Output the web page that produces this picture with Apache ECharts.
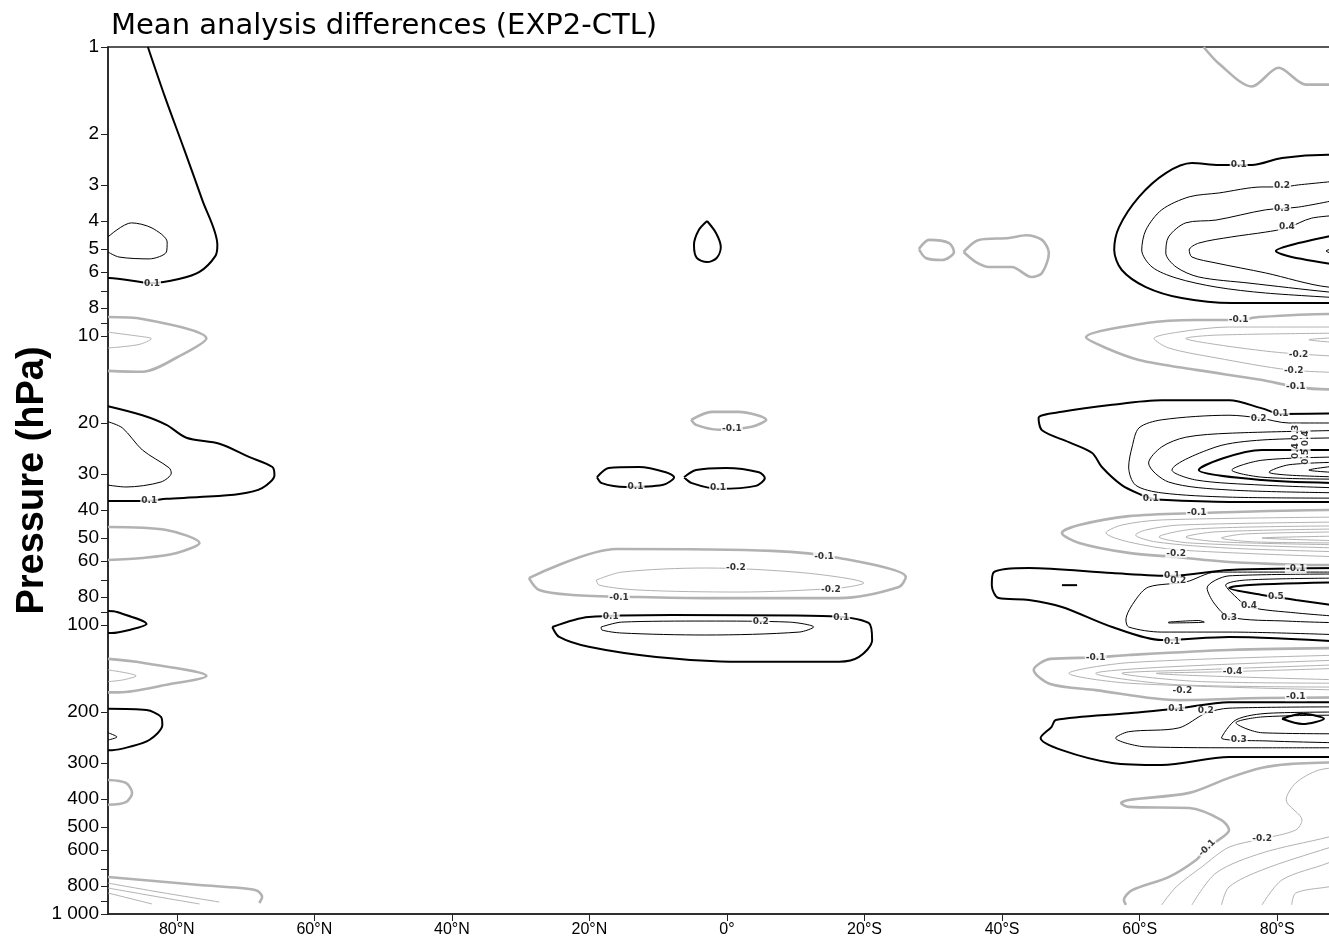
<!DOCTYPE html>
<html><head><meta charset="utf-8">
<script src="https://cdn.jsdelivr.net/npm/echarts@6/dist/echarts.min.js"></script>
<style>html,body{margin:0;padding:0;background:#fff;overflow:hidden;width:1329px;height:942px}#c{width:1360px;height:942px}</style>
</head><body><div id="c"></div>
<script>
// ---- axes ----
const latTicks = [80, 60, 40, 20, 0, -20, -40, -60, -80];
const pressureLabels = [1,2,3,4,5,6,8,10,20,30,40,50,60,80,100,200,300,400,500,600,800,1000];
const pressureTicks = [1,2,3,4,5,6,7,8,9,10,20,30,40,50,60,70,80,90,100,200,300,400,500,600,700,800,900,1000];

// ---- contour lines: [latitude (N>0, S<0), pressure hPa] ----
// North polar
const npA = [[84.2,1.0],[81.8,1.47],[78.9,2.27],[76.3,3.38],[74.1,4.84],[74.4,5.29],[76.7,6.0],[79.7,6.35],[83.6,6.56],[89.8,6.3],[90,6.3]];
const npA2 = [[90,4.54],[86.6,4.06],[83.6,4.23],[81.4,4.73],[81.5,5.12],[84,5.41],[88.4,5.33],[90,5.12]];
const np10a = [[90,8.6],[85,8.73],[75.7,10.2],[79.8,11.8],[85,13.3],[90,13.2]];
const np10b = [[90,9.7],[84.4,10.1],[83.7,10.2],[85.5,10.7],[90,11.0]];
const np30a = [[90,17.5],[85,18.8],[81.5,20.3],[78.6,22.5],[73.8,23.6],[69.5,26.2],[66.1,28.4],[65.8,30.3],[67.6,33.6],[70.9,35.2],[76.7,36.1],[81.5,36.6],[84.4,37.2],[90,37.2]];
const np30b = [[90,19.8],[87.9,20.8],[85,24.8],[81.1,28.6],[80.8,29.8],[82.3,32.0],[87.4,33.3],[90,32.8]];
const np50 = [[90,45.8],[81.5,46.9],[76.7,52.0],[80,56.3],[85,58.6],[90,59.6]];
const np100 = [[90,89.5],[88.7,90.2],[84.4,99.2],[86.9,104],[89.5,106.6],[90,106.6]];
const np150a = [[90,131],[85,135],[75.7,150],[81.5,161],[88.4,171],[90,171]];
const np150b = [[90,143],[85.9,150],[87.9,155],[90,157]];
const np220a = [[90,195],[84.4,197],[82.3,208],[82.1,222],[84,250],[86.9,264],[89.4,271],[90,271]];
const np220b = [[90,236],[88.7,244],[90,250]];
const np400 = [[90,344],[87.4,352],[86.5,381],[87.4,410],[90,419]];
const npS1 = [[90,745],[76.7,794],[68.5,827],[67.6,874],[68,916]];
const npS2 = [[90,782],[81.8,846],[73.8,909]];
const npS3 = [[90,813],[83,870],[76.7,923]];
const npS4 = [[90,846],[83.6,923]];
// Tropics
const eqA = [[2.9,4.0],[1.6,4.4],[0.9,4.92],[1.5,5.37],[2.9,5.55],[4.4,5.37],[4.8,4.84],[4.1,4.3],[2.9,4.0]];
const eqB = [[5.2,19.5],[2.2,18.3],[-1.7,18.3],[-5.7,19.5],[-3.6,20.6],[1.2,21.1],[4.5,20.3],[5.2,19.5]];
const eqC1 = [[18.9,30.8],[17.2,28.6],[12.8,28.4],[8.9,29.6],[7.7,30.8],[9.4,32.8],[14.7,33.3],[18.2,32.3],[18.9,30.8]];
const eqC2 = [[6.25,30.8],[4.5,29.1],[0.15,28.6],[-4.65,29.6],[-5.5,31.0],[-4.2,33.0],[1.2,33.8],[5.1,32.3],[6.25,30.8]];
const eqD1 = [[28.8,68.8],[16.1,54.6],[-6.5,55.4],[-16.3,58.6],[-26,68.2],[-25,73.9],[-16.3,80.7],[3.1,80.7],[12.8,80.0],[22.5,78.7],[27.3,75.7],[28.8,68.8]];
const eqD2 = [[19,69.9],[15.3,65.6],[3.1,63.5],[-11.5,66.1],[-19.9,71.6],[-16.3,74.5],[-1.7,76.9],[12.8,75.7],[18.6,72.8],[19,69.9]];
const eqE1 = [[25.4,101.6],[20.1,93.8],[8.0,92.3],[-13.8,93],[-20.6,98.4],[-21.1,113],[-19.2,129],[-16.3,134],[-1.7,134],[10.3,129],[20.1,119],[24.4,110],[25.4,101.6]];
const eqE2 = [[18.3,101.6],[15.3,97.7],[3.1,96.9],[-9.0,97.7],[-12.6,101.6],[-10.5,105.8],[3.1,108.3],[15.3,106.6],[18.2,104],[18.3,101.6]];
// Southern mid/high latitudes
const sh5g1 = [[-27.9,5.0],[-29.4,4.65],[-32.3,4.77],[-33,5.12],[-31.3,5.46],[-28.9,5.37],[-27.9,5.0]];
const sh5g2 = [[-34.4,5.12],[-36.6,4.65],[-41,4.58],[-43.5,4.48],[-45.8,4.65],[-46.8,5.16],[-45.8,6.05],[-44.3,6.25],[-41.4,5.77],[-38.1,5.77],[-36.2,5.55],[-34.4,5.12]];
const sh1g = [[-69.3,1.0],[-71.5,1.14],[-76.3,1.37],[-80.2,1.18],[-84.2,1.35],[-87.4,1.35],[-90,1.35]];
const sh5a = [[-90,2.36],[-87.4,2.36],[-80.7,2.42],[-76.3,2.56],[-71.5,2.56],[-67.6,2.52],[-63.8,2.73],[-59.9,3.30],[-57,4.2],[-56.3,5.04],[-57.4,5.91],[-60.9,6.77],[-66.1,7.39],[-73.4,7.69],[-87.4,7.69],[-90,7.69]];
const sh5b = [[-90,2.89],[-83.1,3.0],[-80.7,3.05],[-77.8,3.05],[-71.5,3.2],[-67.2,3.30],[-63.2,3.66],[-60.9,4.3],[-60.3,5.04],[-61.8,5.77],[-65.3,6.3],[-71.1,6.77],[-78.3,7.1],[-90,7.4]];
const sh5c = [[-90,3.33],[-83.1,3.58],[-78.3,3.66],[-71.1,3.97],[-66.7,4.06],[-64.2,4.54],[-63.8,5.16],[-65.3,5.77],[-68.6,6.25],[-75.9,6.56],[-87.4,7.04],[-90,7.1]];
const sh5d = [[-90,3.81],[-85,3.91],[-81.4,4.23],[-78.3,4.37],[-73.4,4.54],[-68.6,4.77],[-67.2,5.04],[-67.6,5.33],[-71.1,5.59],[-78.3,6.05],[-87.4,6.77],[-90,6.8]];
const sh5e = [[-90,4.4],[-83.1,4.77],[-79.8,5.08],[-82.1,5.33],[-90,5.73]];
const sh5f = [[-90,4.9],[-87.1,5.08],[-90,5.33]];
const sh10a = [[-90,8.39],[-87.4,8.39],[-77.3,8.6],[-74.4,8.8],[-68.2,8.8],[-61,9.02],[-52.2,10.1],[-55.1,11.0],[-59.9,12.1],[-68.2,13.1],[-77.8,14.2],[-82.7,15.0],[-87.4,15.3],[-90,15.3]];
const sh10b = [[-90,9.31],[-73,9.31],[-65.7,9.69],[-62.1,10.2],[-64.2,11.0],[-71.1,11.9],[-81.7,13.1],[-90,13.4]];
const sh10c = [[-90,9.77],[-71.1,9.93],[-66.7,10.2],[-71.1,10.7],[-80.2,11.4],[-90,11.8]];
const sh10d = [[-90,10.1],[-84.6,10.3],[-90,10.6]];
const sh30a = [[-90,18.5],[-80.5,18.6],[-77.8,17.8],[-73,16.7],[-63.2,16.7],[-56,17.3],[-48.7,18.3],[-45.3,19.2],[-45.8,21.2],[-49.7,23.3],[-53.1,25.4],[-54.5,28.4],[-57.4,32.8],[-60.3,35.5],[-61.6,36.4],[-63.2,36.9],[-73,37.5],[-90,37.5]];
const sh30b = [[-90,20],[-81.7,20],[-77.3,19.2],[-73,18.8],[-63.2,19.5],[-59.9,20.8],[-58.9,24.2],[-58.4,28.4],[-59.4,32.8],[-63.2,34.9],[-73,36.1],[-90,36.4]];
const sh30c = [[-90,21.2],[-73,21.7],[-66.7,22.4],[-63.2,24.2],[-61.3,27.5],[-64.2,32.0],[-73,34.1],[-90,34.9]];
const sh30d = [[-90,22.5],[-77.8,22.9],[-71.1,24.2],[-64.7,29.1],[-68.2,31.5],[-77.8,32.8],[-90,33.6]];
const sh30e = [[-90,24.8],[-77.8,24.8],[-68.6,29.1],[-77.8,31.5],[-90,32.3]];
const sh30f = [[-90,26.2],[-77.8,26.9],[-73.4,29.1],[-77.8,30.8],[-90,31.3]];
const sh30g = [[-90,27.3],[-81.7,27.9],[-78.8,29.6],[-81.7,30.3],[-90,30.8]];
const sh30h = [[-90,27.9],[-84.6,29.1],[-90,29.8]];
const sh50a = [[-90,40],[-87.4,40],[-68.3,41],[-58.4,42],[-51.2,45.1],[-48.7,48],[-51.2,52],[-58.4,56.3],[-65.3,58.2],[-73,60.5],[-87.4,62],[-90,62]];
const sh50b = [[-90,42.3],[-63.2,43.3],[-57.4,45.1],[-55.1,48],[-58.4,51.6],[-65.7,55],[-90,58.2]];
const sh50c = [[-90,44],[-65.7,45.1],[-60.9,46.9],[-59.4,48.8],[-62.4,51.6],[-73,54.2],[-90,55.9]];
const sh50d = [[-90,45.4],[-68.2,46.5],[-62.8,49.6],[-67.2,52],[-90,54.2]];
const sh50e = [[-90,46.5],[-71.1,47.6],[-66.7,49.6],[-71.9,51.6],[-90,52.8]];
const sh50f = [[-90,47.6],[-75.4,48.4],[-71.9,50],[-76.9,51.6],[-90,52]];
const sh50g = [[-90,49.2],[-77.8,50],[-90,51.2]];
const sh80a = [[-90,63.5],[-73,64.5],[-64.7,67.6],[-56,66.1],[-43.9,63.5],[-38.8,65.6],[-38.5,72.8],[-39.5,80.7],[-43.9,81.9],[-48.7,86.6],[-56,101.6],[-63.2,112.7],[-73,110],[-90,114.5]];
const sh80dash = [[-48.7,72.8],[-50.9,72.8]];
const sh80b = [[-90,65.6],[-71.1,65.6],[-66.7,71],[-61.3,73.9],[-59.4,81.9],[-58,96.1],[-58.4,101.6],[-63.2,105.8],[-73,105.8],[-90,108.3]];
const sh80c = [[-90,66.6],[-73,67.6],[-69.8,74.5],[-70.8,83.9],[-73,93.8],[-81.7,97],[-90,98.4]];
const sh80cLoop = [[-64.2,97.7],[-68.6,96.5],[-69.4,97.7],[-64.2,98.4],[-64.2,97.7]];
const sh80d = [[-90,68.8],[-75.4,69.9],[-72.5,72.8],[-74,80],[-75.9,86.6],[-82.7,90.8],[-90,93.8]];
const sh80e = [[-90,71],[-75.4,72.8],[-73,74.5],[-77.8,78.7],[-82.7,81.9],[-90,86.6]];
const sh150a = [[-90,120],[-73,122],[-58.4,127],[-53.6,129.5],[-47,131],[-44.6,143],[-47,160],[-53.6,168],[-65.7,182],[-77.8,179],[-90,178]];
const sh150b = [[-90,127],[-58.4,135],[-49.7,147],[-58.4,159],[-90,168]];
const sh150c = [[-90,132],[-63.2,140],[-53.6,147],[-65.7,161],[-90,164]];
const sh150d = [[-90,137],[-68.2,143],[-57.4,147],[-69,157],[-90,159]];
const sh150e = [[-90,141],[-73,145],[-62.4,147],[-90,155]];
const sh220a = [[-90,185],[-73,185],[-65.3,195],[-58.4,202],[-47.8,213],[-47.2,225],[-45.6,246],[-48.7,271],[-56,300],[-63.2,305],[-73,286],[-90,286]];
const sh220b = [[-90,192],[-73,194],[-69.6,202],[-65.7,227],[-58.4,234],[-56.5,246],[-60.9,264],[-75.9,266],[-90,266]];
const sh220c = [[-90,200],[-78.8,202],[-74,213],[-71.9,246],[-78.8,252],[-90,256]];
const sh220d = [[-90,205],[-77.8,208],[-74,218],[-77.8,236],[-90,238]];
const sh220e = [[-80.7,211],[-83.7,203],[-86.8,211],[-83.7,220],[-80.7,211]];
const shS1 = [[-90,298],[-81.7,303],[-77.8,312],[-73,338],[-67.2,381],[-58.4,403],[-57.3,413],[-58.4,426],[-67.2,430],[-71.9,473],[-73,512],[-71.1,563],[-69.8,591],[-68.2,650],[-64.2,745],[-58.9,827],[-57.7,895],[-58,930]];
const shS2 = [[-90,310],[-86,318],[-82.7,352],[-81.3,403],[-83.6,473],[-82.7,512],[-77.8,550],[-73,587],[-69,688],[-65.3,806],[-63.2,930]];
const shS3 = [[-90,520],[-87.4,542],[-77.8,615],[-71.1,721],[-67.6,930]];
const shS4 = [[-90,570],[-87.4,591],[-77.8,704],[-73,806],[-71.9,930]];
const shS5 = [[-90,620],[-87.4,666],[-80.7,762],[-77.8,930]];
const shS6 = [[-90,790],[-87.4,806],[-82.7,846],[-82.1,930]];

// contour table: [points, level]
const contours = [
  [npA,0.1],[npA2,0.2],[np10a,-0.1],[np10b,-0.2],[np30a,0.1],[np30b,0.2],[np50,-0.1],[np100,0.1],
  [np150a,-0.1],[np150b,-0.2],[np220a,0.1],[np220b,0.2],[np400,-0.1],[npS1,-0.1],[npS2,-0.2],[npS3,-0.3],[npS4,-0.4],
  [eqA,0.1],[eqB,-0.1],[eqC1,0.1],[eqC2,0.1],[eqD1,-0.1],[eqD2,-0.2],[eqE1,0.1],[eqE2,0.2],
  [sh5g1,-0.1],[sh5g2,-0.1],[sh1g,-0.1],[sh5a,0.1],[sh5b,0.2],[sh5c,0.3],[sh5d,0.4],[sh5e,0.5],[sh5f,0.6],
  [sh10a,-0.1],[sh10b,-0.2],[sh10c,-0.3],[sh10d,-0.4],
  [sh30a,0.1],[sh30b,0.2],[sh30c,0.3],[sh30d,0.4],[sh30e,0.5],[sh30f,0.6],[sh30g,0.7],[sh30h,0.8],
  [sh50a,-0.1],[sh50b,-0.2],[sh50c,-0.3],[sh50d,-0.4],[sh50e,-0.5],[sh50f,-0.6],[sh50g,-0.7],
  [sh80a,0.1],[sh80dash,0.1],[sh80b,0.2],[sh80c,0.3],[sh80cLoop,0.3],[sh80d,0.4],[sh80e,0.5],
  [sh150a,-0.1],[sh150b,-0.2],[sh150c,-0.3],[sh150d,-0.4],[sh150e,-0.5],
  [sh220a,0.1],[sh220b,0.2],[sh220c,0.3],[sh220d,0.4],[sh220e,0.5],
  [shS1,-0.1],[shS2,-0.2],[shS3,-0.3],[shS4,-0.4],[shS5,-0.5],[shS6,-0.6]
];

// contour labels: [latitude, pressure, text, rotation]
const contourLabels = [
  [83.6,6.6,'0.1',0],[84.0,37.2,'0.1',0],
  [-0.7,21.0,'-0.1',0],[13.3,33.3,'0.1',0],[1.3,33.6,'0.1',0],
  [-14.1,58.2,'-0.1',0],[15.7,80.4,'-0.1',0],[-1.3,63.5,'-0.2',0],[-15.1,75.5,'-0.2',0],
  [16.9,93.3,'0.1',0],[-16.6,94.5,'0.1',0],[-4.9,97.5,'0.2',0],
  [-74.4,2.56,'0.1',0],[-80.7,3.03,'0.2',0],[-80.7,3.62,'0.3',0],[-81.4,4.2,'0.4',0],
  [-74.4,8.8,'-0.1',0],[-83.1,11.6,'-0.2',0],[-82.4,13.2,'-0.2',0],[-82.7,15.0,'-0.1',0],
  [-80.5,18.6,'0.1',0],[-77.3,19.3,'0.2',0],[-61.6,36.5,'0.1',0],
  [-82.7,21.6,'0.3',90],[-82.7,25.0,'0.4',90],[-84.2,22.6,'0.4',90],[-84.2,26.2,'0.5',90],
  [-68.3,41.0,'-0.1',0],[-65.3,56.5,'-0.2',0],
  [-64.7,67.6,'0.1',0],[-65.6,70.5,'0.2',0],[-73,94.5,'0.3',0],[-75.9,86.0,'0.4',0],[-79.8,79.5,'0.5',0],[-64.7,114,'0.1',0],[-82.7,64,'-0.1',0],
  [-53.6,129.5,'-0.1',0],[-73.5,145,'-0.4',0],[-66.2,169,'-0.2',0],[-82.7,177,'-0.1',0],
  [-65.3,195,'0.1',0],[-69.6,198,'0.2',0],[-74.4,250,'0.3',0],
  [-69.8,591,'-0.1',45],[-77.8,550,'-0.2',0]
];

const LG = Math.log10;
const series = contours.map(([pts, level]) => {
  const neg = level < 0;
  const a = Math.abs(level);
  const thick = Math.abs(a - 0.1) < 1e-9 || (!neg && Math.abs(a - 0.5) < 1e-9);
  return {
    type: 'line',
    data: pts.map(([lat, p]) => [lat, LG(p)]),
    symbol: 'none',
    smooth: 0.3,
    silent: true,
    animation: false,
    z: neg ? 2 : 3,
    lineStyle: {
      color: neg ? '#b2b2b2' : '#000',
      width: thick ? (neg ? 2.6 : 2) : 1
    }
  };
});
series.push({
  type: 'scatter',
  symbolSize: 0,
  silent: true,
  animation: false,
  z: 10,
  data: contourLabels.map(([lat, p, t, r]) => ({ value: [lat, LG(p)], name: t, label: { rotate: r } })),
  label: {
    show: true, position: 'inside', formatter: '{b}',
    fontSize: 9, fontWeight: 'bold', fontFamily: 'DejaVu Sans', color: '#000',
    backgroundColor: '#fff', padding: [0, 1]
  }
});

const chart = echarts.init(document.getElementById('c'), null, { renderer: 'canvas' });
chart.setOption({
  backgroundColor: '#fff',
  animation: false,
  title: {
    text: 'Mean analysis differences (EXP2-CTL)',
    left: 106, top: 7,
    textStyle: { fontFamily: 'DejaVu Sans', fontSize: 29, fontWeight: 'normal', color: '#000' }
  },
  grid: { left: 108, right: 14, top: 47, bottom: 28, outerBoundsMode: 'none', show: true, borderColor: '#222', borderWidth: 1.5 },
  xAxis: {
    type: 'value', min: -90, max: 90, inverse: true,
    axisLine: { show: true, onZero: false, lineStyle: { color: '#222', width: 1.5 } },
    axisTick: { show: true, customValues: latTicks, length: 7, lineStyle: { color: '#222' } },
    axisLabel: {
      customValues: latTicks, margin: 8, fontSize: 16, color: '#000', fontFamily: 'Liberation Sans',
      formatter: v => v === 0 ? '0°' : (v > 0 ? v + '°N' : (-v) + '°S')
    },
    splitLine: { show: false }
  },
  yAxis: {
    type: 'value', min: 0, max: 3, inverse: true,
    name: 'Pressure (hPa)', nameLocation: 'middle', nameGap: 56, nameMoveOverlap: false,
    nameTextStyle: { fontFamily: 'Liberation Sans', fontSize: 38, fontWeight: 'bold', color: '#000' },
    axisLine: { show: true, onZero: false, lineStyle: { color: '#222', width: 1.5 } },
    axisTick: { show: true, customValues: pressureTicks.map(LG), length: 7, lineStyle: { color: '#222' } },
    axisLabel: {
      customValues: pressureLabels.map(LG), margin: 9, fontSize: 19, color: '#000', fontFamily: 'Liberation Sans',
      formatter: v => { const p = Math.round(Math.pow(10, v)); return p === 1000 ? '1 000' : String(p); }
    },
    splitLine: { show: false }
  },
  series: series
});
</script>
</body></html>
